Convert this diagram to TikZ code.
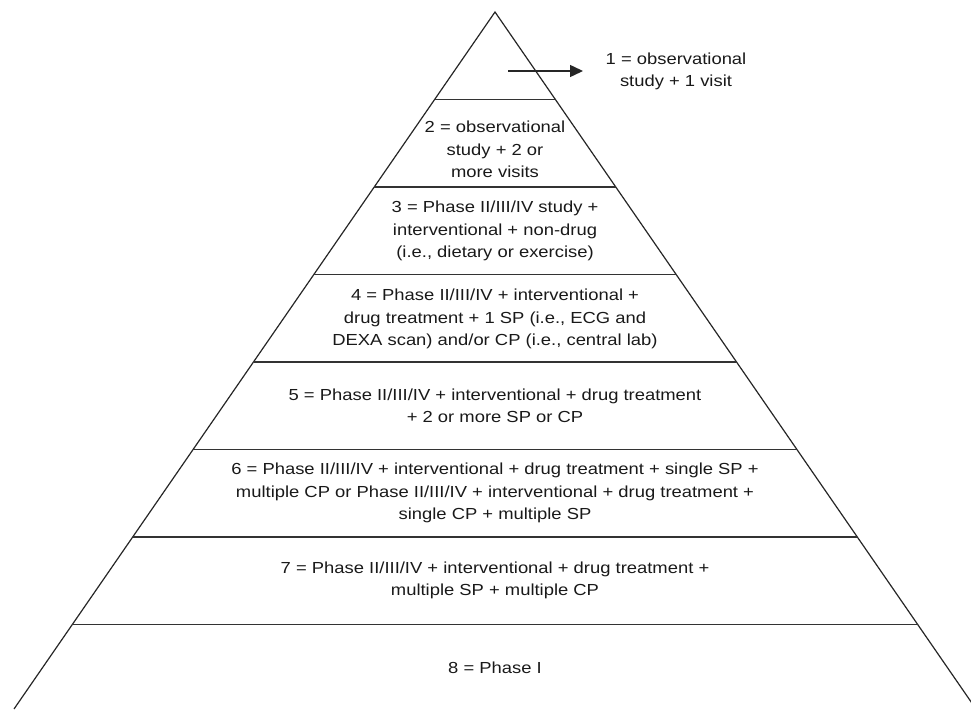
\documentclass[tikz,border=0pt]{standalone}
\usepackage{fontspec}
\setmainfont{Liberation Sans}[FakeStretch=1.15]
\usetikzlibrary{arrows.meta}
\begin{document}
\begin{tikzpicture}[x=1pt,y=-1pt,
  side/.style={line width=1.2pt, black!85},
  tier/.style={line width=1.7pt, black!80},
  lbl/.style={align=center, text=black!90, font=\fontsize{16}{22.5}\selectfont, inner sep=0pt},
  pointer/.style={line width=1.5pt, black!85, -{Triangle[length=13pt,width=12pt]}}]
\clip (0,0) rectangle (971,709);
\coordinate (apex) at (495,12);
\coordinate (bl) at (14,709);
\coordinate (br) at (976,709);
\draw[side] (bl) -- (apex) -- (br);
\foreach \k in {1,...,7} {
  \pgfmathsetmacro\yy{12+87.5*\k}
  \pgfmathsetmacro\dx{0.69*87.5*\k}
  \draw[tier] (495-\dx,\yy) -- (495+\dx,\yy);
}
\coordinate (a0) at (508,71);
\coordinate (a1) at (583,71);
\draw[pointer] (a0) -- (a1);
\node[lbl] (t1) at (676,71.5) {1 = observational\\study + 1 visit};
\node[lbl] (t2) at (495,149.5) {2 = observational\\study + 2 or\\more visits};
\node[lbl] (t3) at (495,231) {3 = Phase II/III/IV study +\\interventional + non-drug\\(i.e., dietary or exercise)};
\node[lbl] (t4) at (495,319) {4 = Phase II/III/IV + interventional +\\drug treatment + 1 SP (i.e., ECG and\\DEXA scan) and/or CP (i.e., central lab)};
\node[lbl] (t5) at (495,406) {5 = Phase II/III/IV + interventional + drug treatment\\+ 2 or more SP or CP};
\node[lbl] (t6) at (495,493) {6 = Phase II/III/IV + interventional + drug treatment + single SP +\\multiple CP or Phase II/III/IV + interventional + drug treatment +\\single CP + multiple SP};
\node[lbl] (t7) at (495,580.5) {7 = Phase II/III/IV + interventional + drug treatment +\\multiple SP + multiple CP};
\node[lbl] (t8) at (495,668) {8 = Phase I};
\end{tikzpicture}
\end{document}
